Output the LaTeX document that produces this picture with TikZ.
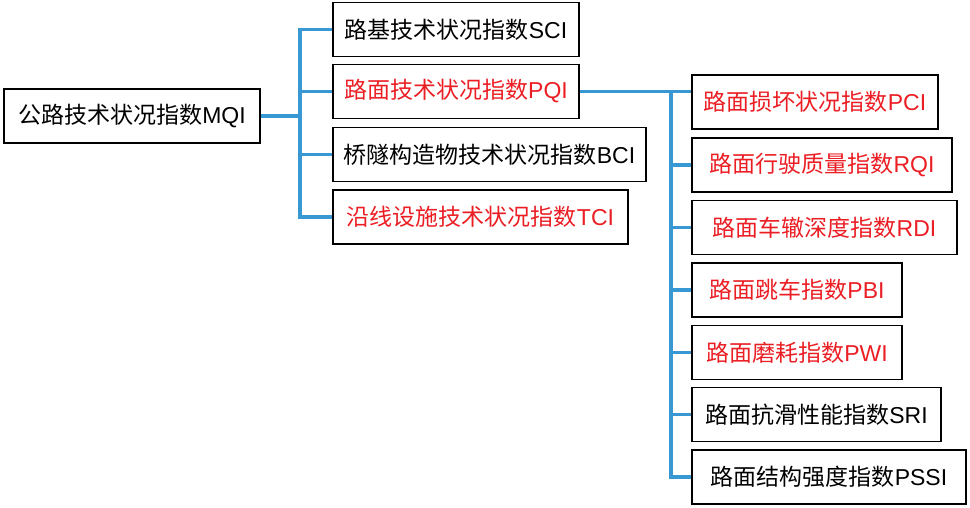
\documentclass[tikz,border=0pt]{standalone}
\usepackage{fontspec}
\setmainfont{Liberation Sans}
\newfontfamily\cjk{Noto Sans CJK SC}
\usepackage{tikz}
\definecolor{idxred}{RGB}{235,30,36}
\definecolor{idxblue}{RGB}{56,152,212}
\tikzstyle{index box}=[rectangle, draw=black, line width=1.1pt, minimum height=54pt,
inner sep=4pt, font=\fontsize{23pt}{28pt}\selectfont]
\tikzstyle{index red}=[index box, text=idxred]
\tikzstyle{index link}=[draw=idxblue, line width=3.4pt]
\newcommand{\idxlabel}[2]{{\cjk #1}#2}

\begin{document}
\begin{tikzpicture}[x=1pt,y=-1pt]
			\useasboundingbox (0,0) rectangle (970,508);

			\node[index box, minimum width=256pt] (mqi) at (132,116) {\idxlabel{公路技术状况指数}{MQI}};

			\node[index box, minimum width=246pt] (sci) at (456,29.5) {\idxlabel{路基技术状况指数}{SCI}};
			\node[index red, minimum width=246pt] (pqi) at (456,91.5) {\idxlabel{路面技术状况指数}{PQI}};
			\node[index box, minimum width=313pt] (bci) at (489.5,154.5) {\idxlabel{桥隧构造物技术状况指数}{BCI}};
			\node[index red, minimum width=295pt] (tci) at (480.5,217) {\idxlabel{沿线设施技术状况指数}{TCI}};

			\node[index red, minimum width=246pt] (pci) at (815,102) {\idxlabel{路面损坏状况指数}{PCI}};
			\node[index red, minimum width=260pt] (rqi) at (822,165) {\idxlabel{路面行驶质量指数}{RQI}};
			\node[index red, minimum width=265pt] (rdi) at (824.5,227.5) {\idxlabel{路面车辙深度指数}{RDI}};
			\node[index red, minimum width=210pt] (pbi) at (797,290) {\idxlabel{路面跳车指数}{PBI}};
			\node[index red, minimum width=210pt] (pwi) at (797,352.5) {\idxlabel{路面磨耗指数}{PWI}};
			\node[index box, minimum width=249pt] (sri) at (816.5,414.5) {\idxlabel{路面抗滑性能指数}{SRI}};
			\node[index box, minimum width=274pt] (pssi) at (829,477) {\idxlabel{路面结构强度指数}{PSSI}};

			\coordinate (bus1) at (300,0);
			\coordinate (bus2) at (671,0);
			\draw[index link] (mqi.east) -- (mqi.east -| bus1);
			\draw[index link] (sci.west) -- (sci.west -| bus1) -- (tci.west -| bus1) -- (tci.west);
			\foreach \n in {pqi,bci} \draw[index link] (\n.west -| bus1) -- (\n.west);
			\draw[index link] (pqi.east) -- (pci.west |- pqi.east);
			\draw[index link] (pqi.east -| bus2) -- (pssi.west -| bus2) -- (pssi.west);
			\foreach \n in {rqi,rdi,pbi,pwi,sri} \draw[index link] (\n.west -| bus2) -- (\n.west);
		\end{tikzpicture}
\end{document}
